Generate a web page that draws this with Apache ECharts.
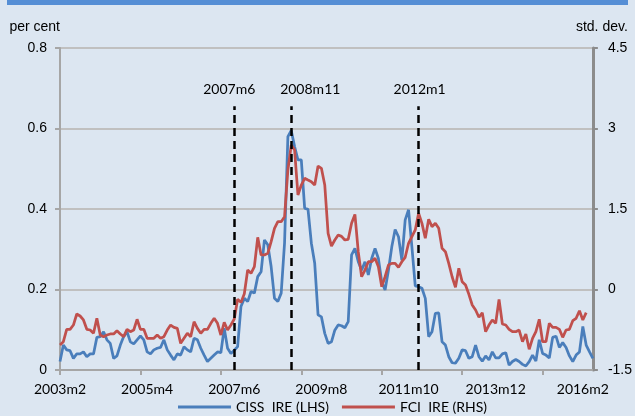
<!DOCTYPE html>
<html>
<head>
<meta charset="utf-8">
<script src="https://cdn.jsdelivr.net/npm/echarts@6/dist/echarts.min.js"></script>
<style>
  html, body { margin: 0; padding: 0; background: #dce6f1; }
  #chart { width: 635px; height: 416px; }
</style>
</head>
<body>
<div id="chart"></div>
<script>
// Monthly categories 2003m2 .. 2016m5
const months = [];
for (let y = 2003, m = 2; months.length < 160; ) {
  months.push(y + 'm' + m);
  m++; if (m > 12) { m = 1; y++; }
}

// CISS for Ireland, per cent (left axis)
const cissIre = [
  0.021, 0.062, 0.050, 0.048, 0.029, 0.040, 0.040, 0.045, 0.033, 0.040, 0.040, 0.081,
  0.083, 0.095, 0.075, 0.066, 0.029, 0.035, 0.062, 0.083, 0.095, 0.070, 0.065, 0.075,
  0.085, 0.075, 0.045, 0.040, 0.050, 0.054, 0.056, 0.075, 0.050, 0.037, 0.025, 0.040,
  0.037, 0.058, 0.050, 0.045, 0.079, 0.075, 0.054, 0.037, 0.021, 0.029, 0.037, 0.045,
  0.043, 0.104, 0.054, 0.041, 0.049, 0.058, 0.158, 0.178, 0.170, 0.195, 0.191, 0.232,
  0.244, 0.323, 0.311, 0.257, 0.178, 0.170, 0.191, 0.315, 0.580, 0.595, 0.555, 0.522,
  0.522, 0.402, 0.399, 0.315, 0.265, 0.137, 0.132, 0.091, 0.066, 0.070, 0.099, 0.112,
  0.110, 0.105, 0.120, 0.286, 0.302, 0.269, 0.248, 0.269, 0.236, 0.277, 0.302, 0.277,
  0.219, 0.199, 0.248, 0.306, 0.349, 0.331, 0.273, 0.373, 0.398, 0.306, 0.209, 0.207,
  0.203, 0.178, 0.083, 0.095, 0.141, 0.142, 0.070, 0.062, 0.033, 0.018, 0.017, 0.029,
  0.050, 0.048, 0.029, 0.033, 0.062, 0.033, 0.022, 0.035, 0.025, 0.045, 0.030, 0.030,
  0.040, 0.043, 0.012, 0.021, 0.026, 0.021, 0.014, 0.010, 0.021, 0.037, 0.022, 0.075,
  0.041, 0.037, 0.030, 0.081, 0.084, 0.056, 0.068, 0.056, 0.035, 0.021, 0.037, 0.045,
  0.108, 0.062, 0.045, 0.029
];

// Financial conditions index for Ireland, std. dev. (right axis)
const fciIre = [
  -1.034, -0.973, -0.742, -0.742, -0.662, -0.457, -0.494, -0.568, -0.742, -0.755, -0.816, -0.537,
  -0.848, -0.879, -0.848, -0.829, -0.829, -0.767, -0.829, -0.879, -0.742, -0.786, -0.755, -0.555,
  -0.742, -0.742, -0.909, -0.909, -0.909, -0.848, -0.909, -0.879, -0.755, -0.662, -0.705, -0.724,
  -1.003, -0.909, -0.816, -0.879, -0.600, -0.724, -0.816, -0.742, -0.742, -0.630, -0.537, -0.630,
  -0.848, -0.610, -0.755, -0.662, -0.550, -0.180, -0.240, -0.080, 0.363, 0.302, 0.425, 0.973,
  0.643, 0.643, 0.674, 0.891, 1.140, 1.263, 1.263, 1.356, 2.227, 2.692, 2.599, 1.761,
  1.947, 2.072, 2.040, 2.009, 1.947, 2.301, 2.258, 1.947, 1.047, 0.810, 0.922, 1.016,
  0.990, 0.922, 0.935, 1.233, 1.400, 0.700, 0.238, 0.363, 0.518, 0.518, 0.581, 0.425,
  0.053, 0.238, 0.456, 0.487, 0.487, 0.413, 0.518, 0.600, 0.861, 0.985, 1.109, 1.420,
  1.233, 0.954, 1.308, 1.171, 1.233, 1.140, 0.767, 0.705, 0.487, 0.238, 0.040, 0.395,
  0.145, 0.084, -0.090, -0.289, -0.382, -0.518, -0.432, -0.786, -0.662, -0.568, -0.630, -0.183,
  -0.643, -0.662, -0.742, -0.786, -0.786, -0.755, -0.973, -0.829, -1.114, -0.909, -0.786, -0.555,
  -0.973, -0.973, -0.630, -0.705, -0.705, -0.742, -0.891, -0.755, -0.742, -0.581, -0.537, -0.395,
  -0.568, -0.432, null, null
];

// Event dates marked with dashed vertical lines
const eventMonths = ['2007m6', '2008m11', '2012m1'];

// Axis ranges and tick steps
const leftAxis = { min: 0, max: 0.8, step: 0.2 };
const rightAxis = { min: -1.5, max: 4.5, step: 1.5 };

const seriesNames = ['CISS  IRE (LHS)', 'FCI  IRE (RHS)'];

const labelFont = 'Lato, "Open Sans", sans-serif';
const numFont = '"Liberation Sans", Arial, sans-serif';

const eventLabelPad = {
  '2007m6': [0, 10, 0, 0],
  '2008m11': [0, 0, 0, 38],
  '2012m1': [0, 0, 0, 2]
};
const eventTop = 0.655;

const chart = echarts.init(document.getElementById('chart'), null, { renderer: 'canvas' });

chart.setOption({
  backgroundColor: '#dce6f1',
  animation: false,
  graphic: [
    { type: 'rect', left: 7, top: 0, shape: { width: 621, height: 5 }, style: { fill: '#558ed5' } }
  ],
  grid: { left: 60, right: 41, top: 48, bottom: 46, containLabel: false },
  legend: {
    data: seriesNames,
    left: 178,
    top: 400,
    padding: 0,
    itemGap: 13,
    itemWidth: 53,
    itemHeight: 3,
    icon: 'rect',
    textStyle: { fontFamily: labelFont, fontSize: 14, color: '#000' }
  },
  xAxis: {
    type: 'category',
    data: months,
    boundaryGap: false,
    axisLine: { lineStyle: { color: '#a6a6a6', width: 2 } },
    axisTick: { show: true, interval: 23, length: 5, lineStyle: { color: '#a6a6a6', width: 2 } },
    axisLabel: { interval: 25, margin: 12, fontFamily: labelFont, fontSize: 14, color: '#000' },
    splitLine: { show: false }
  },
  yAxis: [
    {
      type: 'value',
      position: 'left',
      min: leftAxis.min, max: leftAxis.max, interval: leftAxis.step,
      name: 'per cent',
      nameLocation: 'end',
      nameGap: 21,
      nameTextStyle: { fontFamily: numFont, fontSize: 14, color: '#000', align: 'right', verticalAlign: 'middle' },
      axisLine: { show: true, lineStyle: { color: '#a6a6a6', width: 2 } },
      axisTick: { show: true, length: 5, lineStyle: { color: '#a6a6a6', width: 2 } },
      axisLabel: {
        margin: 13, fontFamily: numFont, fontSize: 14, color: '#000',
        formatter: v => (v === 0 ? '0' : v.toFixed(1))
      },
      splitLine: { show: true, lineStyle: { color: '#c0c0c0', width: 2 } }
    },
    {
      type: 'value',
      position: 'right',
      min: rightAxis.min, max: rightAxis.max, interval: rightAxis.step,
      name: 'std. dev.',
      nameLocation: 'end',
      nameGap: 21,
      nameTextStyle: {
        fontFamily: numFont, fontSize: 14, color: '#000',
        align: 'center', verticalAlign: 'middle', padding: [0, 0, 0, 18]
      },
      axisLine: { show: true, lineStyle: { color: '#8c8c8c', width: 3 } },
      axisTick: { show: true, length: 5, lineStyle: { color: '#8c8c8c', width: 2 } },
      axisLabel: {
        margin: 15, fontFamily: numFont, fontSize: 14, color: '#000',
        formatter: v => String(v)
      },
      splitLine: { show: false }
    }
  ],
  series: [
    {
      name: seriesNames[0],
      type: 'line',
      yAxisIndex: 0,
      data: cissIre,
      symbol: 'none',
      lineStyle: { color: '#4a7ebb', width: 2.75 },
      itemStyle: { color: '#4a7ebb' },
      markLine: {
        silent: true,
        symbol: ['none', 'none'],
        lineStyle: { color: '#000', type: [8, 5], width: 2.5 },
        label: {
          show: true,
          position: 'end',
          distance: 10,
          fontFamily: labelFont,
          fontSize: 14,
          color: '#000',
          formatter: p => p.name
        },
        data: eventMonths.map(m => [
          { name: m, coord: [m, leftAxis.min] },
          { name: m, coord: [m, eventTop], label: { padding: eventLabelPad[m] } }
        ])
      }
    },
    {
      name: seriesNames[1],
      type: 'line',
      yAxisIndex: 1,
      data: fciIre,
      symbol: 'none',
      connectNulls: false,
      lineStyle: { color: '#c0504d', width: 2.75 },
      itemStyle: { color: '#c0504d' }
    }
  ]
});
</script>
</body>
</html>
